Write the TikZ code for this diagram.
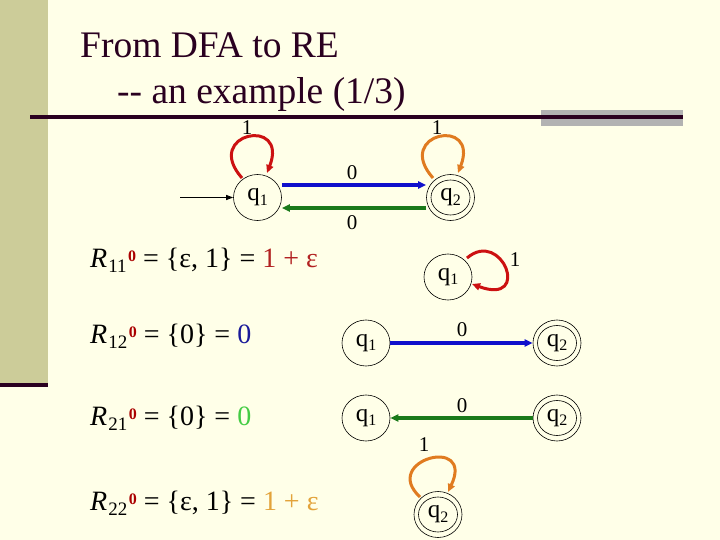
\documentclass[tikz,border=0pt]{standalone}
\usepackage{fontspec}
\setmainfont{Liberation Serif}
\usetikzlibrary{arrows.meta,shapes.geometric,calc}
\definecolor{bg}{HTML}{FFFFE8}
\definecolor{bar}{HTML}{CCCC99}
\definecolor{dark}{HTML}{2A0020}
\definecolor{grayrect}{HTML}{B2B2B2}
\definecolor{redtxt}{HTML}{B22222}
\definecolor{supred}{HTML}{AA0000}
\definecolor{bluetxt}{HTML}{1A1A99}
\definecolor{greentxt}{HTML}{44CC44}
\definecolor{orangetxt}{HTML}{E3A33A}
\definecolor{loopred}{HTML}{CC1111}
\definecolor{looporange}{HTML}{E07B20}
\definecolor{arrblue}{HTML}{1010CC}
\definecolor{arrgreen}{HTML}{1A7A1A}
\newcommand{\qlab}[1]{q\raisebox{-4.5pt}{\fontsize{16}{16}\selectfont #1}}
\newcommand{\Rlab}[1]{\textit{R}\kern1pt\raisebox{-5pt}{\fontsize{19}{19}\selectfont #1}\kern1.5pt\raisebox{6pt}{\fontsize{16}{16}\selectfont\bfseries\color{supred}0}}
\begin{document}
\begin{tikzpicture}[x=1pt,y=-1pt,
  state/.style={ellipse, draw, line width=0.6pt, minimum width=48pt, minimum height=46pt, inner sep=0pt, font=\fontsize{25}{25}\selectfont},
  acc/.style={state, path picture={\draw[line width=0.6pt] (path picture bounding box.center) ellipse [x radius=19.5pt, y radius=17.5pt];}},
  lab/.style={font=\fontsize{21}{21}\selectfont, inner sep=0pt},
  eqn/.style={anchor=base west, inner sep=0pt, font=\fontsize{28}{28}\selectfont},
  ttl/.style={anchor=base west, inner sep=0pt, text=dark, font=\fontsize{37.5}{37.5}\selectfont},
  tip/.style={-{Triangle[length=8pt,width=7pt]}},
  thick arrow/.style={tip, line width=3.5pt},
  loop line/.style={tip, line width=3pt}
]
\useasboundingbox (0,0) rectangle (720,540);
\fill[bg] (0,0) rectangle (720,540);
\fill[bar] (0,0) rectangle (48,383);
\fill[dark] (0,383) rectangle (48,387);
\fill[grayrect] (541,110) rectangle (683,126);
\fill[dark] (30,115) rectangle (683,119);

% title
\node[ttl] (t1) at (80,58) {From DFA to RE};
\node[ttl] (t2) at (117,104) {-{}- an example (1/3)};

% top automaton
\node[state] (q1a) at (257.5,197.5) {\qlab{1}};
\node[acc] (q2a) at (450.5,197.5) {\qlab{2}};
\coordinate (start) at (180,197.5);
\draw[line width=0.9pt, -{Triangle[length=7pt,width=5pt]}] (start) -- (q1a.west);
\coordinate (ya) at (0,185);
\coordinate (yb) at (0,208);
\draw[thick arrow, arrblue] (q1a.east |- ya) -- (q2a.west |- ya);
\draw[thick arrow, arrgreen] (q2a.west |- yb) -- (q1a.east |- yb);
\node[lab] (l0a) at (352,173) {0};
\node[lab] (l0b) at (352,223) {0};
\draw[loop line, loopred] ($(q1a)+(-15.5,-19.5)$) .. controls +(-40,-45) and +(22,-57) .. ($(q1a)+(9.5,-24.5)$);
\draw[loop line, looporange] ($(q2a)+(-17.5,-19.5)$) .. controls +(-40,-45) and +(22,-57) .. ($(q2a)+(7.5,-24.5)$);
\node[lab] (l1a) at (247,128) {1};
\node[lab] (l1b) at (437,128) {1};

% equations
\node[eqn] (r11) at (90,267) {\Rlab{11} = \{ε, 1\} = {\color{redtxt}1 + ε}};
\node[eqn] (r12) at (90,343) {\Rlab{12} = \{0\} = {\color{bluetxt}0}};
\node[eqn] (r21) at (90,425) {\Rlab{21} = \{0\} = {\color{greentxt}0}};
\node[eqn] (r22) at (90,510) {\Rlab{22} = \{ε, 1\} = {\color{orangetxt}1 + ε}};

% R11 diagram
\node[state] (q1b) at (448,277) {\qlab{1}};
\draw[loop line, loopred] ($(q1b)+(19,-19)$) .. controls +(35,-30) and +(60,22) .. ($(q1b)+(24,7)$);
\node[lab] (l1c) at (515,260) {1};

% R12 diagram
\node[state] (q1c) at (366,343) {\qlab{1}};
\node[acc] (q2c) at (557,343) {\qlab{2}};
\draw[thick arrow, arrblue] (q1c.east) -- (q2c.west);
\node[lab] (l0c) at (462,330) {0};

% R21 diagram
\node[state] (q1d) at (366,418) {\qlab{1}};
\node[acc] (q2d) at (557,418) {\qlab{2}};
\draw[thick arrow, arrgreen] (q2d.west) -- (q1d.east);
\node[lab] (l0d) at (462,406) {0};

% R22 diagram
\node[acc] (q2e) at (438,514.5) {\qlab{2}};
\draw[loop line, looporange] ($(q2e)+(-18,-17.5)$) .. controls +(-40,-37) and +(27,-57) .. ($(q2e)+(10,-22.5)$);
\node[lab] (l1d) at (424,445) {1};
\end{tikzpicture}
\end{document}
